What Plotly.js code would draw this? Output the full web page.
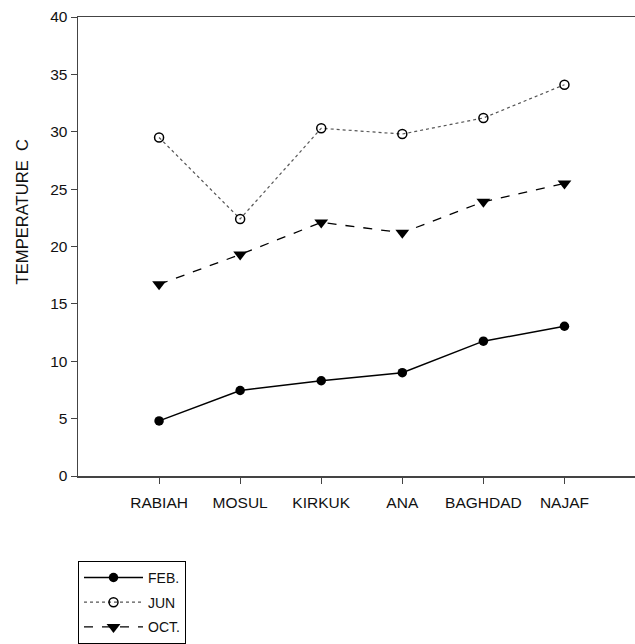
<!DOCTYPE html>
<html>
<head>
<meta charset="utf-8">
<script src="https://cdn.plot.ly/plotly-3.0.1.min.js"></script>
<style>html,body{margin:0;padding:0;background:#fff;}#chart{width:635px;height:644px;}</style>
</head>
<body>
<div id="chart"></div>
<script>
const categories = ["RABIAH", "MOSUL", "KIRKUK", "ANA", "BAGHDAD", "NAJAF"];
const positions = [1, 2, 3, 4, 5, 6];
const febValues = [4.8, 7.45, 8.3, 9.0, 11.75, 13.05];
const junValues = [29.5, 22.4, 30.3, 29.8, 31.2, 34.1];
const octValues = [16.7, 19.3, 22.1, 21.2, 23.9, 25.5];
const yTicks = [0, 5, 10, 15, 20, 25, 30, 35, 40];

const font = "Liberation Sans, Arial, sans-serif";

const traces = [
  {x: positions, y: febValues, name: "FEB.", legendgroup: "a", mode: "lines+markers",
   line: {color: "#000", width: 1.5, dash: "solid"},
   marker: {symbol: "circle", size: 9.5, color: "#000"}},
  {x: positions, y: junValues, name: "JUN", legendgroup: "b", mode: "lines+markers",
   line: {color: "#555", width: 1.2, dash: "dot"},
   marker: {symbol: "circle-open", size: 9, color: "#000", line: {width: 1.5, color: "#000"}}},
  {x: positions, y: octValues, name: "OCT.", legendgroup: "c", mode: "lines+markers",
   line: {color: "#000", width: 1.3, dash: "dash"},
   marker: {symbol: "triangle-down", size: 12, color: "#000"}}
];

const layout = {
  width: 635, height: 644,
  margin: {l: 78, r: 0, t: 17, b: 168},
  paper_bgcolor: "#fff", plot_bgcolor: "#fff",
  font: {family: font, size: 12, color: "#111"},
  showlegend: true,
  legend: {x: 0, xanchor: "left", y: -0.185, yanchor: "top",
           bordercolor: "#000", borderwidth: 1, bgcolor: "#fff",
           traceorder: "grouped", tracegroupgap: 3.5, itemwidth: 59,
           font: {family: font, size: 14, color: "#111"}},
  xaxis: {range: [0, 6.87], tickmode: "array", tickvals: positions, ticktext: categories,
          showgrid: false, zeroline: false, showline: true, linecolor: "#444", linewidth: 1.5,
          mirror: true, ticks: "outside", ticklen: 6, tickcolor: "#444", ticklabelstandoff: 6,
          tickfont: {family: font, size: 15.5, color: "#111"}},
  yaxis: {range: [0, 40], tickmode: "array", tickvals: yTicks,
          showgrid: false, zeroline: false, showline: true, linecolor: "#444", linewidth: 1.5,
          ticks: "outside", ticklen: 6, tickcolor: "#444",
          tickfont: {family: font, size: 15.5, color: "#111"}},
  annotations: [{text: "TEMPERATURE  C", xref: "paper", yref: "paper", x: -0.1, y: 0.575,
                 textangle: -90, showarrow: false, xanchor: "center", yanchor: "middle",
                 font: {family: font, size: 16.6, color: "#111"}}]
};

Plotly.newPlot("chart", traces, layout, {displayModeBar: false, staticPlot: true});
</script>
</body>
</html>
